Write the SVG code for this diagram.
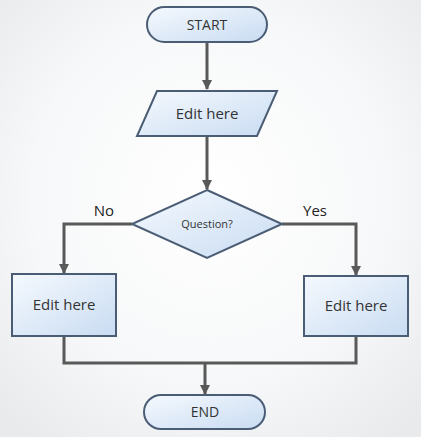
<svg xmlns="http://www.w3.org/2000/svg" width="421" height="437" viewBox="0 0 421 437">
<defs>
<radialGradient id="bg" cx="50%" cy="45%" r="70%">
<stop offset="0" stop-color="#ffffff"/>
<stop offset="0.6" stop-color="#f7f8f9"/>
<stop offset="1" stop-color="#e9eaec"/>
</radialGradient>
<linearGradient id="fill" x1="0" y1="0" x2="1" y2="1">
<stop offset="0" stop-color="#f5f9fe"/>
<stop offset="1" stop-color="#c9dcf2"/>
</linearGradient>
<marker id="arr" viewBox="0 0 10 10" refX="9" refY="5" markerWidth="3.4" markerHeight="3.4" orient="auto" markerUnits="strokeWidth">
<path d="M0,0 L10,5 L0,10 z" fill="#595959"/>
</marker>
<style>
.shape{fill:url(#fill);stroke:#4b5d75;stroke-width:2}
.conn{fill:none;stroke:#595959;stroke-width:3}
.t{font-family:"Open Sans","Noto Sans",sans-serif;fill:#333;text-anchor:middle}
.lbl{font-family:"Open Sans","Noto Sans",sans-serif;fill:#222;font-size:15px;text-anchor:middle}
</style>
</defs>
<rect width="421" height="437" fill="url(#bg)"/>
<g id="connectors">
<path class="conn" d="M207,42 V89" marker-end="url(#arr)"/>
<path class="conn" d="M207,136 V189" marker-end="url(#arr)"/>
<path class="conn" d="M132,224 H64 V273" marker-end="url(#arr)"/>
<path class="conn" d="M282,224 H356 V275" marker-end="url(#arr)"/>
<path class="conn" d="M64,336 V363 H356 V336"/>
<path class="conn" d="M205,363 V394" marker-end="url(#arr)"/>
</g>
<g id="start">
<rect class="shape" x="147" y="7" width="120" height="35" rx="17.5"/>
<text class="t" x="207" y="30" font-size="14">START</text>
</g>
<g id="input">
<polygon class="shape" points="157,91 277,91 257,136 137,136"/>
<text class="t" x="207" y="119" font-size="15">Edit here</text>
</g>
<g id="decision">
<polygon class="shape" points="207,190 282,224 207,258 132,224"/>
<text class="t" x="207" y="228" font-size="11">Question?</text>
</g>
<g id="labels">
<text class="lbl" x="104" y="216">No</text>
<text class="lbl" x="315" y="216">Yes</text>
</g>
<g id="left-box">
<rect class="shape" x="12" y="274" width="104" height="62"/>
<text class="t" x="64" y="310" font-size="15">Edit here</text>
</g>
<g id="right-box">
<rect class="shape" x="304" y="276" width="104" height="60"/>
<text class="t" x="356" y="311" font-size="15">Edit here</text>
</g>
<g id="end">
<rect class="shape" x="144" y="395" width="121" height="34" rx="17"/>
<text class="t" x="205" y="417" font-size="14">END</text>
</g>
</svg>
